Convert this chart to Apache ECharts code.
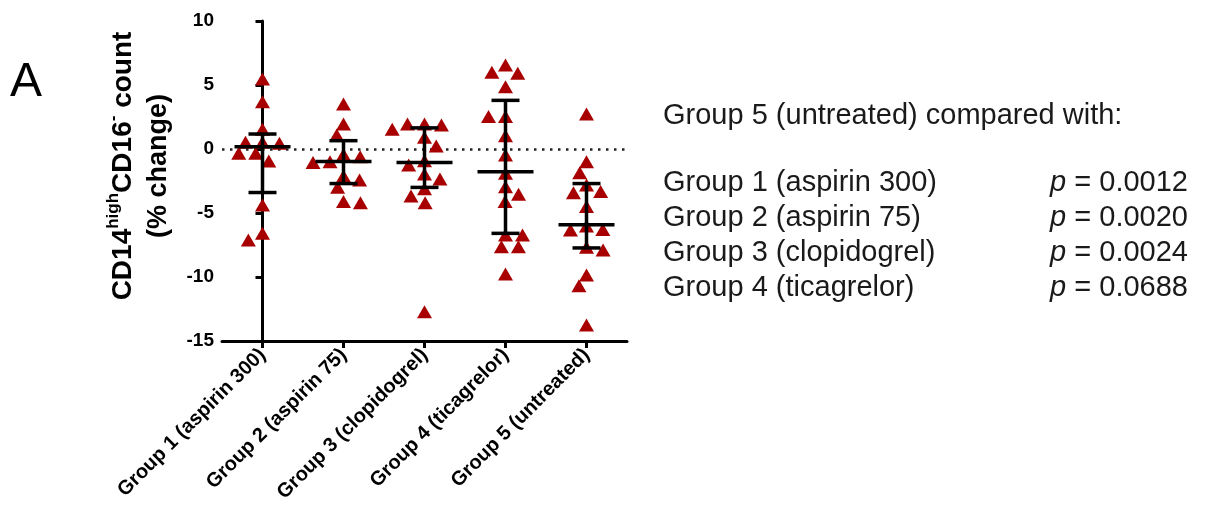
<!DOCTYPE html>
<html>
<head>
<meta charset="utf-8">
<script src="https://cdn.jsdelivr.net/npm/echarts@6/dist/echarts.min.js"></script>
<style>
html,body{margin:0;padding:0;background:#fff;}
#chart{width:1207px;height:517px;}
</style>
</head>
<body>
<div id="chart"></div>
<script>
// ---- data ----
const categories = ['Group 1 (aspirin 300)', 'Group 2 (aspirin 75)', 'Group 3 (clopidogrel)', 'Group 4 (ticagrelor)', 'Group 5 (untreated)'];
const group1 = [5.47, 3.70, 1.54, 0.52, 0.52, 0.45, -0.34, -0.34, -0.94, -4.38, -6.59, -7.11];
const group2 = [3.52, 1.95, 1.09, -0.42, -0.60, -0.99, -1.05, -2.11, -2.42, -2.99, -4.11, -4.19];
const group3 = [1.95, 1.95, 1.87, 1.54, 0.91, 0.23, -0.91, -1.25, -1.95, -2.34, -3.10, -3.67, -4.19, -12.71];
const group4 = [6.56, 6.00, 5.91, 4.87, 2.53, 2.53, 1.04, -0.47, -1.90, -2.94, -3.54, -4.11, -6.72, -6.72, -7.63, -7.63, -9.77];
const group5 = [2.73, -0.99, -1.85, -2.81, -3.33, -3.41, -4.50, -6.02, -6.28, -6.33, -7.68, -7.89, -9.84, -10.68, -13.75];
const medians = [0.18, -0.97, -1.05, -1.77, -5.92];
const upperQuartile = [1.17, 0.65, 1.65, 3.80, -2.70];
const lowerQuartile = [-3.40, -2.70, -3.00, -6.59, -7.73];
const yTicks = [-15, -10, -5, 0, 5, 10];
const compareTitle = 'Group 5 (untreated) compared with:';
const compareGroups = ['Group 1 (aspirin 300)', 'Group 2 (aspirin 75)', 'Group 3 (clopidogrel)', 'Group 4 (ticagrelor)'];
const pValues = ['0.0012', '0.0020', '0.0024', '0.0688'];

// ---- layout ----
const W = 1207, H = 517;
const GRID = {left: 222, right: 580, top: 21, bottom: 176};
const plotW = W - GRID.left - GRID.right;
const plotH = H - GRID.top - GRID.bottom;
const yMin = -15, yMax = 10;
const pxPerUnit = plotH / (yMax - yMin);
const bandPx = plotW / categories.length;
const FONT = '"Liberation Sans", Arial, Helvetica, sans-serif';
const RED = '#A80000';

// simple beeswarm: horizontal offsets (px) so triangles don't overlap
function swarm(values, sepX, sepY) {
  const order = values.map((v, i) => i).sort((a, b) => values[b] - values[a]);
  const placed = [];
  const offs = new Array(values.length).fill(0);
  let lastSide = 1;
  for (const i of order) {
    const y = values[i] * pxPerUnit;
    const ivs = [];
    for (const p of placed) {
      const dy = Math.abs(p.y - y);
      if (dy < sepY) {
        const w = sepX * Math.sqrt(1 - (dy / sepY) * (dy / sepY));
        ivs.push([p.x - w, p.x + w]);
      }
    }
    const cands = [0];
    ivs.forEach(iv => { cands.push(iv[0], iv[1]); });
    const valid = cands.filter(c => ivs.every(iv => c <= iv[0] + 1e-6 || c >= iv[1] - 1e-6));
    valid.sort((a, b) => {
      const d = Math.round(Math.abs(a) * 100) - Math.round(Math.abs(b) * 100);
      if (d !== 0) return d;
      return lastSide > 0 ? a - b : b - a;
    });
    const x = valid[0];
    if (Math.abs(x) > 0.01) lastSide = x > 0 ? 1 : -1;
    placed.push({x: x, y: y});
    offs[i] = x;
  }
  return offs;
}

const groups = [group1, group2, group3, group4, group5];
const scatterData = [];
groups.forEach((g, gi) => {
  const offs = swarm(g, 17, 12);
  g.forEach((v, k) => { scatterData.push([gi + offs[k] / bandPx, v]); });
});
const barData = categories.map((c, i) => [i, medians[i], lowerQuartile[i], upperQuartile[i]]);

const chart = echarts.init(document.getElementById('chart'), null, {renderer: 'canvas'});
const TXT = '#1a1a1a';
const option = {
  backgroundColor: '#fff',
  animation: false,
  grid: {left: GRID.left, right: GRID.right, top: GRID.top, bottom: GRID.bottom, containLabel: false},
  xAxis: [{
    type: 'category',
    data: categories,
    boundaryGap: true,
    axisLine: {show: true, onZero: false, lineStyle: {color: '#000', width: 3}},
    axisTick: {show: true, alignWithLabel: true, length: 7, lineStyle: {color: '#000', width: 3}},
    axisLabel: {rotate: 45, color: '#000', fontFamily: FONT, fontWeight: 'bold', fontSize: 20, margin: 11, interval: 0},
    splitLine: {show: false}
  }, {
    type: 'value', min: -0.5, max: categories.length - 0.5, show: false
  }],
  yAxis: {
    type: 'value', min: yMin, max: yMax, interval: 5,
    axisLine: {show: true, lineStyle: {color: '#000', width: 3}},
    axisTick: {show: true, length: 7, lineStyle: {color: '#000', width: 3}},
    axisLabel: {color: '#000', fontFamily: FONT, fontWeight: 'bold', fontSize: 19, margin: 8,
      customValues: yTicks},
    splitLine: {show: false}
  },
  series: [{
    type: 'scatter',
    xAxisIndex: 1,
    data: scatterData,
    symbol: 'triangle',
    symbolSize: [15, 13],
    itemStyle: {color: RED, opacity: 1},
    z: 3,
    markLine: {
      silent: true, symbol: 'none', label: {show: false},
      lineStyle: {type: [2.5, 5.5], width: 2.5, color: '#222'},
      data: [{yAxis: 0}],
      z: 1
    }
  }, {
    type: 'custom',
    xAxisIndex: 0,
    data: barData,
    encode: {x: 0, y: [1, 2, 3]},
    z: 5,
    renderItem: function (params, api) {
      const i = api.value(0);
      const pm = api.coord([i, api.value(1)]);
      const pl = api.coord([i, api.value(2)]);
      const pu = api.coord([i, api.value(3)]);
      const x = pm[0];
      const capHalf = 14, medHalf = 28;
      const st = {stroke: '#000', lineWidth: 3.5, fill: null};
      return {
        type: 'group',
        children: [
          {type: 'line', shape: {x1: x, y1: pu[1], x2: x, y2: pl[1]}, style: st},
          {type: 'line', shape: {x1: x - capHalf, y1: pu[1], x2: x + capHalf, y2: pu[1]}, style: st},
          {type: 'line', shape: {x1: x - capHalf, y1: pl[1], x2: x + capHalf, y2: pl[1]}, style: st},
          {type: 'line', shape: {x1: x - medHalf, y1: pm[1], x2: x + medHalf, y2: pm[1]}, style: st}
        ]
      };
    }
  }],
  graphic: [
    {type: 'text', left: 10, top: 59, style: {text: 'A', font: '48px ' + FONT, fill: '#000'}},
    {type: 'text', x: 121, y: 166, rotation: Math.PI / 2,
      style: {
        text: '{b|CD14}{s|high}{b|CD16}{s|-}{b| count}',
        align: 'center', verticalAlign: 'middle',
        rich: {
          b: {fontFamily: FONT, fontWeight: 'bold', fontSize: 28, fill: '#000', lineHeight: 32, verticalAlign: 'bottom'},
          s: {fontFamily: FONT, fontWeight: 'bold', fontSize: 17, fill: '#000', lineHeight: 32, verticalAlign: 'top'}
        }
      }},
    {type: 'text', x: 159, y: 166, rotation: Math.PI / 2,
      style: {text: '(% change)', align: 'center', verticalAlign: 'middle', font: 'bold 27px ' + FONT, fill: '#000'}},
    {type: 'text', x: 663, y: 116, style: {text: compareTitle, verticalAlign: 'middle', font: '29px ' + FONT, fill: TXT}}
  ].concat(compareGroups.map((g, i) => ({
    type: 'text', x: 663, y: 183 + i * 35, style: {text: g, verticalAlign: 'middle', font: '29px ' + FONT, fill: TXT}
  }))).concat(pValues.map((p, i) => ({
    type: 'text', x: 1188, y: 183 + i * 35,
    style: {
      text: '{i|p} = ' + p, align: 'right', verticalAlign: 'middle', font: '29px ' + FONT, fill: TXT,
      rich: {i: {fontFamily: FONT, fontStyle: 'italic', fontSize: 29, fill: TXT}}
    }
  })))
};
chart.setOption(option);
</script>
</body>
</html>
